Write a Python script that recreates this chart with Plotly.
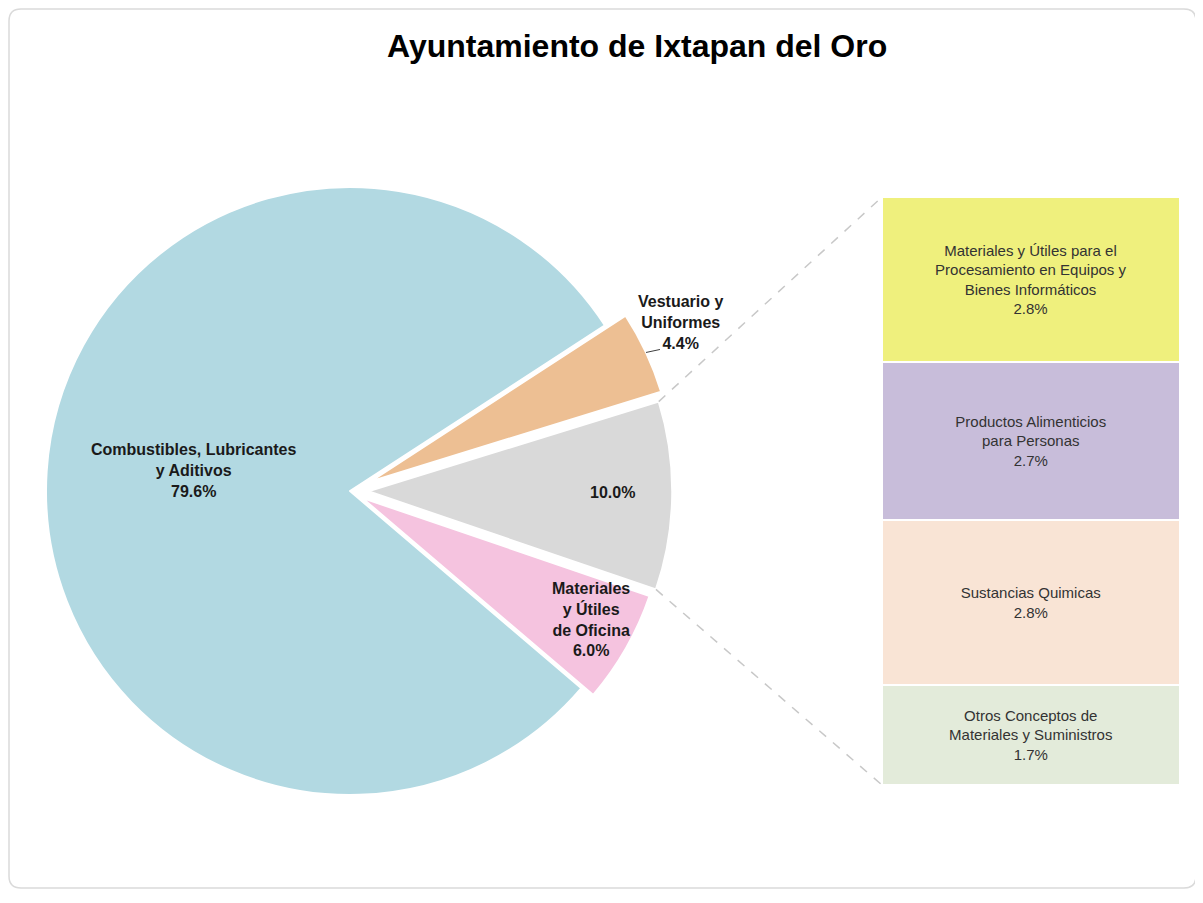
import math
import plotly.graph_objects as go

# page body has an 8px margin; the figure is drawn 8px in from the window edge
OFF = 8
W, H = 1203 - OFF, 903 - OFF

title_text = "Ayuntamiento de Ixtapan del Oro"

# Pie (main) data
pie_labels = ["Vestuario y<br>Uniformes", "", "Materiales<br>y Útiles<br>de Oficina",
              "Combustibles, Lubricantes<br>y Aditivos"]
pie_values = [4.4, 10.0, 6.0, 79.6]
pie_colors = ["#EDBF93", "#D9D9D9", "#F5C3DF", "#B2D9E2"]
pie_pulls = [0.075, 0.06, 0.045, 0.0]

# Bar (breakdown of the 10.0% slice)
bar_labels = ["Materiales y Útiles para el<br>Procesamiento en Equipos y<br>Bienes Informáticos",
              "Productos Alimenticios<br>para Personas",
              "Sustancias Quimicas",
              "Otros Conceptos de<br>Materiales y Suministros"]
bar_values = [2.8, 2.7, 2.8, 1.7]
bar_colors = ["#EFF07D", "#C8BDDA", "#F9E4D5", "#E3EBDA"]

# ---------------- geometry (window pixels) ----------------
cx, cy, R = 350.0, 491.0, 304.0
rotation = 57.0
maxp = max(pie_pulls)
half = R * (1 + maxp)


def px2paper(x, y):
    return (x - OFF) / W, 1 - (y - OFF) / H


pie_dom_x = [px2paper(cx - half, 0)[0], px2paper(cx + half, 0)[0]]
pie_dom_y = [px2paper(0, cy + half)[1], px2paper(0, cy - half)[1]]

bar_px_x = [882, 1180]
bar_px_y = [197, 785]
bar_dom_x = [px2paper(bar_px_x[0], 0)[0], px2paper(bar_px_x[1], 0)[0]]
bar_dom_y = [px2paper(0, bar_px_y[1])[1], px2paper(0, bar_px_y[0])[1]]


def polar(a_deg, r, ox=0.0, oy=0.0):
    a = math.radians(a_deg)
    return cx + ox + r * math.sin(a), cy + oy - r * math.cos(a)


total = sum(pie_values)
angles = []
acc = rotation
for v in pie_values:
    a0 = acc
    a1 = acc + v / total * 360
    angles.append((a0, a1, (a0 + a1) / 2))
    acc = a1

fig = go.Figure()

fig.add_trace(go.Pie(
    values=pie_values,
    labels=[f"s{i}" for i in range(len(pie_values))],
    sort=False,
    direction="clockwise",
    rotation=rotation,
    pull=pie_pulls,
    marker=dict(colors=pie_colors, line=dict(color="#FFFFFF", width=2)),
    textinfo="none",
    hoverinfo="skip",
    domain=dict(x=pie_dom_x, y=pie_dom_y),
    showlegend=False,
))

for lab, val, col in zip(bar_labels, bar_values, bar_colors):
    fig.add_trace(go.Bar(
        x=[0], y=[val], width=[1],
        marker=dict(color=col, line=dict(color="#FFFFFF", width=2.5)),
        text=[f"{lab}<br>{val:.1f}%"],
        textposition="inside",
        insidetextanchor="middle",
        textangle=0,
        textfont=dict(family="Liberation Sans, Arial, sans-serif", size=15, color="#333333"),
        hoverinfo="skip",
        showlegend=False,
        xaxis="x", yaxis="y",
    ))

annotations = []
# label placement: (angle shift from slice mid-angle, radius as fraction of R)
label_pos = [(-2.0, 1.22), (-0.6, 0.862), (-1.6, 0.90), (3.6, 0.52)]
for i, (lab, val) in enumerate(zip(pie_labels, pie_values)):
    a0, a1, mid = angles[i]
    da, fr = label_pos[i]
    lx, ly = polar(mid + da, R * fr)
    txt = f"<b>{lab}<br>{val:.1f}%</b>" if lab else f"<b>{val:.1f}%</b>"
    px, py = px2paper(lx, ly)
    annotations.append(dict(
        x=px, y=py, xref="paper", yref="paper", text=txt, showarrow=False,
        font=dict(family="Liberation Sans, Arial, sans-serif", size=16, color="#1A1A1A"),
        align="center", xanchor="center", yanchor="middle"))

# title
tx, ty = px2paper(637, 46)
annotations.append(dict(x=tx, y=ty, xref="paper", yref="paper", showarrow=False,
                        text=f"<b>{title_text}</b>", xanchor="center", yanchor="middle",
                        font=dict(family="Liberation Sans, Arial, sans-serif", size=32, color="#000000")))

shapes = []
# rounded frame
fx0, fy0, fx1, fy1, rr = 9, 9, 1196, 888, 12


def P(x, y):
    a, b = px2paper(x, y)
    return f"{a:.5f},{b:.5f}"


path = (f"M {P(fx0+rr, fy0)} L {P(fx1-rr, fy0)} Q {P(fx1, fy0)} {P(fx1, fy0+rr)} "
        f"L {P(fx1, fy1-rr)} Q {P(fx1, fy1)} {P(fx1-rr, fy1)} L {P(fx0+rr, fy1)} "
        f"Q {P(fx0, fy1)} {P(fx0, fy1-rr)} L {P(fx0, fy0+rr)} Q {P(fx0, fy0)} {P(fx0+rr, fy0)} Z")
shapes.append(dict(type="path", path=path, xref="paper", yref="paper",
                   line=dict(color="#DADADA", width=1.5), layer="below"))

# connector lines from the 10.0% slice to the bar
a0, a1, mid = angles[1]
off = pie_pulls[1] * R
ox = off * math.sin(math.radians(mid))
oy = -off * math.cos(math.radians(mid))
c_top = polar(a0, R, ox, oy)
c_bot = polar(a1, R, ox, oy)
for (sx, sy), (ex, ey) in [(c_top, (bar_px_x[0], bar_px_y[0])), (c_bot, (bar_px_x[0], bar_px_y[1]))]:
    x0p, y0p = px2paper(sx, sy)
    x1p, y1p = px2paper(ex, ey)
    shapes.append(dict(type="line", xref="paper", yref="paper", x0=x0p, y0=y0p, x1=x1p, y1=y1p,
                       line=dict(color="#C8C8C8", width=1.5, dash="dash")))

# leader line for Vestuario label
a0, a1, mid = angles[0]
off = pie_pulls[0] * R
sx, sy = polar(mid, R + off)
x0p, y0p = px2paper(sx, sy)
x1p, y1p = px2paper(sx + 14, sy - 3)
shapes.append(dict(type="line", xref="paper", yref="paper", x0=x0p, y0=y0p, x1=x1p, y1=y1p,
                   line=dict(color="#404040", width=1)))

fig.update_layout(
    width=W, height=H,
    margin=dict(l=0, r=0, t=0, b=0),
    paper_bgcolor="#FFFFFF",
    plot_bgcolor="rgba(0,0,0,0)",
    barmode="stack",
    bargap=0,
    xaxis=dict(domain=bar_dom_x, range=[-0.5, 0.5], visible=False, fixedrange=True),
    yaxis=dict(domain=bar_dom_y, range=[sum(bar_values), 0], visible=False, fixedrange=True),
    annotations=annotations,
    shapes=shapes,
    showlegend=False,
)

fig.write_html("out.html")
